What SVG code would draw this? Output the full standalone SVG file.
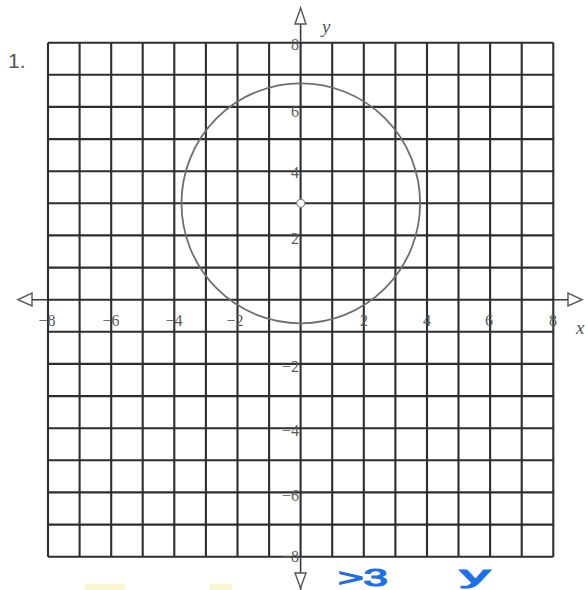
<svg xmlns="http://www.w3.org/2000/svg" width="588" height="590" viewBox="0 0 588 590">
<style>
.g{stroke:#2e2e2e;stroke-width:2.1;fill:none}
.ax{stroke:#3a3a3a;stroke-width:1.6;fill:none}
.ah{fill:#fff;stroke:#555;stroke-width:1.4}
.t{font-family:"Liberation Serif",serif;font-size:16px;fill:#5a5a5a}
.tx{text-anchor:middle}
.ty{text-anchor:end}
.lab{font-family:"Liberation Serif",serif;font-style:italic;font-size:19px;fill:#555}
.hw{font-family:"Liberation Sans",sans-serif;font-size:23px;fill:#1f6fe5;stroke:#1f6fe5;stroke-width:1.2}
</style>
<rect width="588" height="590" fill="#fff"/>
<rect x="85" y="584" width="40" height="6" fill="#fbf5cf"/>
<rect x="210" y="584" width="22" height="6" fill="#fbf5cf"/>
<g id="grid">
<path class="g" d="M48,42.7V556.7M79.6,42.7V556.7M111.2,42.7V556.7M142.7,42.7V556.7M174.3,42.7V556.7M205.9,42.7V556.7M237.5,42.7V556.7M269.1,42.7V556.7M300.6,42.7V556.7M332.2,42.7V556.7M363.8,42.7V556.7M395.4,42.7V556.7M427,42.7V556.7M458.5,42.7V556.7M490.1,42.7V556.7M521.7,42.7V556.7M553.3,42.7V556.7"/>
<path class="g" d="M48,42.7H553.3M48,74.8H553.3M48,106.9H553.3M48,139.1H553.3M48,171.2H553.3M48,203.3H553.3M48,235.4H553.3M48,267.6H553.3M48,299.7H553.3M48,331.8H553.3M48,363.9H553.3M48,396.1H553.3M48,428.2H553.3M48,460.3H553.3M48,492.4H553.3M48,524.6H553.3M48,556.7H553.3"/>
</g>
<g id="axes">
<path class="ax" d="M30,299.7H48M553.3,299.7H570M300.6,22V42.7M300.6,556.7V590"/>
<polygon class="ah" points="18,299.7 32,293 32,306"/>
<polygon class="ah" points="582,299.7 568,293 568,306"/>
<polygon class="ah" points="300.6,8 295,24 306,24"/>
<polygon class="ah" points="300.6,588 295,573 306,573"/>
<text class="lab" x="322" y="33">y</text>
<text class="lab" x="576" y="334">x</text>
</g>
<g id="xlabels">
<text class="t tx" x="47" y="326">−8</text>
<text class="t tx" x="111" y="326">−6</text>
<text class="t tx" x="174" y="326">−4</text>
<text class="t tx" x="235" y="326">−2</text>
<text class="t tx" x="364" y="326">2</text>
<text class="t tx" x="427" y="326">4</text>
<text class="t tx" x="489" y="326">6</text>
<text class="t tx" x="553" y="326">8</text>
</g>
<g id="ylabels">
<text class="t ty" x="299" y="50">8</text>
<text class="t ty" x="299" y="117">6</text>
<text class="t ty" x="299" y="178">4</text>
<text class="t ty" x="299" y="244">2</text>
<text class="t ty" x="299" y="372">−2</text>
<text class="t ty" x="299" y="436">−4</text>
<text class="t ty" x="299" y="501">−6</text>
<text class="t ty" x="299" y="562">−8</text>
</g>
<g id="circle">
<ellipse cx="300.8" cy="203.3" rx="119.3" ry="120" fill="none" stroke="#6e6e6e" stroke-width="1.8"/>
<circle cx="300.8" cy="203.3" r="4" fill="#fff" stroke="#888" stroke-width="1.2"/>
</g>
<text x="8" y="68" font-family="Liberation Sans, sans-serif" font-size="21" fill="#555">1.</text>
<g id="handwriting">
<text class="hw" x="338" y="586" textLength="50" lengthAdjust="spacingAndGlyphs">&gt;3</text>
<text class="hw" x="460" y="583" textLength="30" lengthAdjust="spacingAndGlyphs">y</text>
</g>
</svg>
